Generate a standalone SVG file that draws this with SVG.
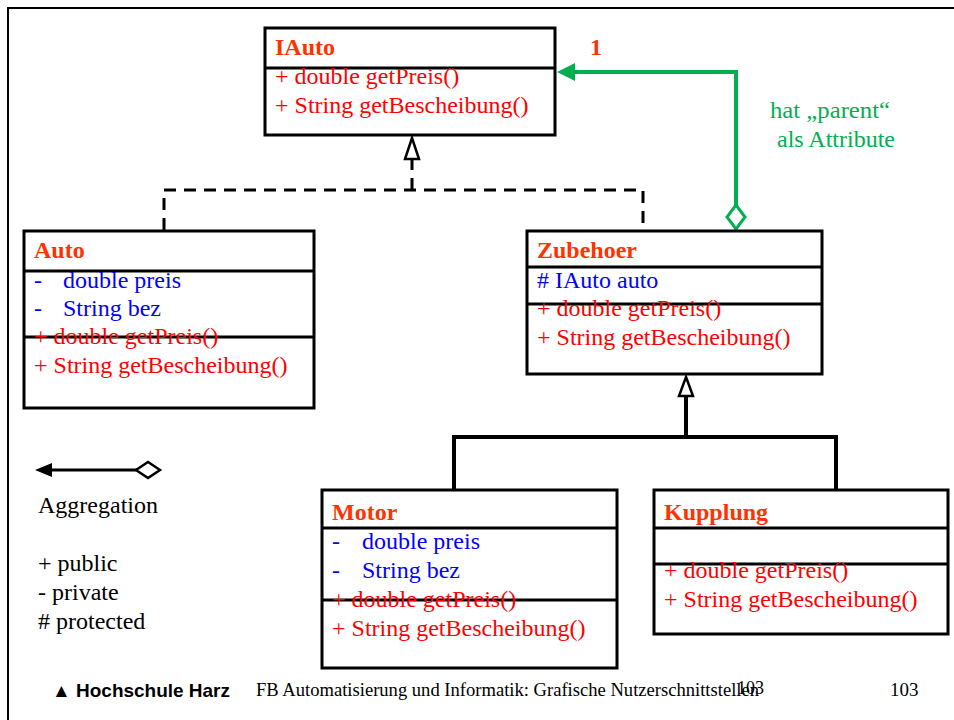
<svg xmlns="http://www.w3.org/2000/svg" width="954" height="720" viewBox="0 0 954 720">
  <style>
    .box { fill: #fff; stroke: #000; stroke-width: 3; }
    .div { stroke: #000; stroke-width: 3; }
    .t { font-family: "Liberation Serif", "Times New Roman", serif; font-size: 24px; }
    .title { fill: #FF3300; font-weight: bold; }
    .m { fill: #FF0000; }
    .a { fill: #0000FF; }
    .g { fill: #00B050; }
    .k { fill: #000; }
    .ft { font-family: "Liberation Serif", "Times New Roman", serif; fill: #000; }
  </style>

  <rect width="954" height="720" fill="#fff"/>
  <!-- page frame -->
  <path d="M8,720 L8,8 L954,8" fill="none" stroke="#000" stroke-width="2"/>

  <g id="connectors">
    <!-- realization IAuto <- Auto / Zubehoer (dashed) -->
    <path d="M164,230 L164,190 L643,190 L643,230 M412,190 L412,160" fill="none" stroke="#000" stroke-width="3" stroke-dasharray="12,8"/>
    <path d="M412,138 L419,159 L405,159 Z" fill="#fff" stroke="#000" stroke-width="2.5"/>
    <!-- inheritance Zubehoer <- Motor / Kupplung -->
    <path d="M454,490 L454,437 L836,437 L836,490 M686,437 L686,395" fill="none" stroke="#000" stroke-width="4"/>
    <path d="M686,377 L693,396 L679,396 Z" fill="#fff" stroke="#000" stroke-width="2.5"/>
    <!-- aggregation Zubehoer -> IAuto -->
    <path d="M736,205 L736,72 L572,72" fill="none" stroke="#00B050" stroke-width="4"/>
    <path d="M557,72 L575,63 L575,81 Z" fill="#00B050"/>
    <path d="M736,205 L745,217 L736,229 L727,217 Z" fill="#fff" stroke="#00B050" stroke-width="3"/>
    <text class="t title" x="590" y="55">1</text>
    <text class="t g" x="770" y="118" textLength="120" lengthAdjust="spacingAndGlyphs">hat „parent“</text>
    <text class="t g" x="777" y="147">als Attribute</text>
  </g>

  <g id="IAuto">
    <rect class="box" x="265" y="28" width="290" height="107"/>
    <line class="div" x1="265" y1="68" x2="555" y2="68"/>
    <text class="t title" x="275" y="55">IAuto</text>
    <text class="t m" x="275" y="84">+ double getPreis()</text>
    <text class="t m" x="275" y="113">+ String getBescheibung()</text>
  </g>

  <g id="Auto">
    <rect class="box" x="24" y="231" width="290" height="177"/>
    <line class="div" x1="24" y1="271" x2="314" y2="271"/>
    <line class="div" x1="24" y1="337" x2="314" y2="337"/>
    <text class="t title" x="34" y="258">Auto</text>
    <text class="t a" x="34" y="288">-</text><text class="t a" x="63" y="288">double preis</text>
    <text class="t a" x="34" y="316">-</text><text class="t a" x="63" y="316">String bez</text>
    <text class="t m" x="34" y="344">+ double getPreis()</text>
    <text class="t m" x="34" y="373">+ String getBescheibung()</text>
  </g>

  <g id="Zubehoer">
    <rect class="box" x="527" y="231" width="295" height="143"/>
    <line class="div" x1="527" y1="267" x2="822" y2="267"/>
    <line class="div" x1="527" y1="304" x2="822" y2="304"/>
    <text class="t title" x="537" y="258">Zubehoer</text>
    <text class="t a" x="537" y="288"># IAuto auto</text>
    <text class="t m" x="537" y="316">+ double getPreis()</text>
    <text class="t m" x="537" y="345">+ String getBescheibung()</text>
  </g>

  <g id="Motor">
    <rect class="box" x="322" y="490" width="295" height="178"/>
    <line class="div" x1="322" y1="528" x2="617" y2="528"/>
    <line class="div" x1="322" y1="600" x2="617" y2="600"/>
    <text class="t title" x="332" y="520">Motor</text>
    <text class="t a" x="332" y="549">-</text><text class="t a" x="362" y="549">double preis</text>
    <text class="t a" x="332" y="578">-</text><text class="t a" x="362" y="578">String bez</text>
    <text class="t m" x="332" y="607">+ double getPreis()</text>
    <text class="t m" x="332" y="636">+ String getBescheibung()</text>
  </g>

  <g id="Kupplung">
    <rect class="box" x="654" y="490" width="294" height="144"/>
    <line class="div" x1="654" y1="528" x2="948" y2="528"/>
    <line class="div" x1="654" y1="564" x2="948" y2="564"/>
    <text class="t title" x="664" y="520">Kupplung</text>
    <text class="t m" x="664" y="578">+ double getPreis()</text>
    <text class="t m" x="664" y="607">+ String getBescheibung()</text>
  </g>

  <g id="legend">
    <line x1="50" y1="470" x2="137" y2="470" stroke="#000" stroke-width="3"/>
    <path d="M35,470 L52,463 L52,477 Z" fill="#000"/>
    <path d="M136,470 L148,462 L160,470 L148,478 Z" fill="#fff" stroke="#000" stroke-width="2.5"/>
    <text class="t k" x="38" y="513">Aggregation</text>
    <text class="t k" x="38" y="571">+ public</text>
    <text class="t k" x="38" y="600">- private</text>
    <text class="t k" x="38" y="629"># protected</text>
  </g>

  <g id="footer">
    <text x="52" y="697" font-family="'Liberation Sans', Arial, sans-serif" font-size="19" font-weight="bold" fill="#000" textLength="178" lengthAdjust="spacingAndGlyphs">▲ Hochschule Harz</text>
    <text class="ft" x="256" y="696" font-size="18" textLength="503" lengthAdjust="spacingAndGlyphs">FB Automatisierung und Informatik: Grafische Nutzerschnittstellen</text>
    <text class="ft" x="737" y="694" font-size="18">103</text>
    <text class="ft" x="890" y="696" font-size="19">103</text>
  </g>
</svg>
